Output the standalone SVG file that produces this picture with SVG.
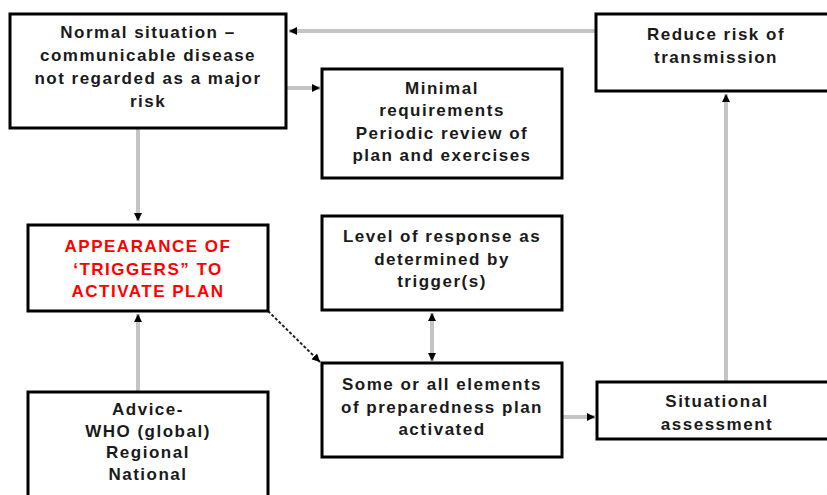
<svg xmlns="http://www.w3.org/2000/svg" width="827" height="495" viewBox="0 0 827 495">
<style>
.box{fill:#fff;stroke:#000;stroke-width:3}
.t{font-family:"Liberation Sans",Arial,Helvetica,sans-serif;font-weight:bold;font-size:17px;letter-spacing:1.5px;fill:#1a1a1a;text-anchor:middle}
.red{fill:#ff0000}
.conn{stroke:#c4c4c4;stroke-width:4;fill:none}
.dash{stroke:#222;stroke-width:2;stroke-dasharray:3 2;fill:none}
</style>
<defs>
<marker id="ah" viewBox="0 0 10 10" refX="10" refY="5" markerWidth="9" markerHeight="8" markerUnits="userSpaceOnUse" orient="auto-start-reverse">
<path d="M0,0 L10,5 L0,10 Z" fill="#000"/>
</marker>
</defs>
<rect width="827" height="495" fill="#fff"/>
<g id="connectors">
<line class="conn" x1="596" y1="31" x2="289" y2="31" marker-end="url(#ah)"/>
<line class="conn" x1="287" y1="88" x2="320" y2="88" marker-end="url(#ah)"/>
<line class="conn" x1="138" y1="129" x2="138" y2="221" marker-end="url(#ah)"/>
<line class="conn" x1="138" y1="392" x2="138" y2="314" marker-end="url(#ah)"/>
<line class="dash" x1="268" y1="311" x2="320" y2="362" marker-end="url(#ah)"/>
<line class="conn" x1="432" y1="313" x2="432" y2="361" marker-start="url(#ah)" marker-end="url(#ah)"/>
<line class="conn" x1="563" y1="417" x2="595" y2="417" marker-end="url(#ah)"/>
<line class="conn" x1="726" y1="382" x2="726" y2="94" marker-end="url(#ah)"/>
</g>
<g id="normal">
<rect class="box" x="10" y="14" width="276" height="114"/>
<text class="t" x="148" y="38">Normal situation –</text>
<text class="t" x="148" y="61">communicable disease</text>
<text class="t" x="148" y="84">not regarded as a major</text>
<text class="t" x="148" y="107">risk</text>
</g>
<g id="minimal">
<rect class="box" x="322" y="69" width="240" height="109"/>
<text class="t" x="442" y="94">Minimal</text>
<text class="t" x="442" y="116">requirements</text>
<text class="t" x="442" y="139">Periodic review of</text>
<text class="t" x="442" y="161">plan and exercises</text>
</g>
<g id="reduce">
<rect class="box" x="596" y="14" width="240" height="77"/>
<text class="t" x="716" y="40">Reduce risk of</text>
<text class="t" x="716" y="63">transmission</text>
</g>
<g id="triggers">
<rect class="box" x="28" y="225" width="240" height="86"/>
<text class="t red" x="148" y="252">APPEARANCE OF</text>
<text class="t red" x="148" y="275">‘TRIGGERS” TO</text>
<text class="t red" x="148" y="297">ACTIVATE PLAN</text>
</g>
<g id="level">
<rect class="box" x="322" y="216" width="240" height="94"/>
<text class="t" x="442" y="242">Level of response as</text>
<text class="t" x="442" y="265">determined by</text>
<text class="t" x="442" y="287">trigger(s)</text>
</g>
<g id="activated">
<rect class="box" x="322" y="363" width="240" height="94"/>
<text class="t" x="442" y="390">Some or all elements</text>
<text class="t" x="442" y="413">of preparedness plan</text>
<text class="t" x="442" y="435">activated</text>
</g>
<g id="situational">
<rect class="box" x="597" y="382" width="240" height="57"/>
<text class="t" x="717" y="407">Situational</text>
<text class="t" x="717" y="430">assessment</text>
</g>
<g id="advice">
<rect class="box" x="28" y="392" width="240" height="110"/>
<text class="t" x="148" y="415">Advice-</text>
<text class="t" x="148" y="437">WHO (global)</text>
<text class="t" x="148" y="458">Regional</text>
<text class="t" x="148" y="480">National</text>
</g>
</svg>
